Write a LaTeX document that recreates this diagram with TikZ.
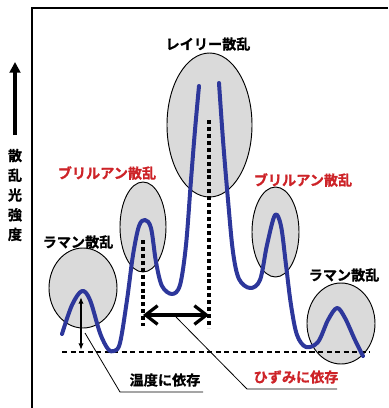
\documentclass[tikz,border=0pt]{standalone}
\usepackage{fontspec}
\newfontfamily\jp{Noto Sans CJK JP}[BoldFont={Noto Sans CJK JP Bold}, BoldFeatures={FakeBold=0.9}]
\usetikzlibrary{arrows.meta}
\definecolor{curveblue}{RGB}{45,55,155}
\definecolor{labred}{RGB}{205,35,40}
\definecolor{ellgray}{RGB}{218,218,218}
\begin{document}
\begin{tikzpicture}[x=0.75pt,y=-0.75pt,
  lab/.style={font=\jp\bfseries\fontsize{10.6}{12}\selectfont, inner sep=0pt},
  redlab/.style={lab, text=labred},
  ell/.style={draw=black, line width=0.7pt, fill=ellgray},
  spec/.style={draw=curveblue, line width=3pt, line cap=round, line join=round},
  vdash/.style={draw=black, line width=2.3pt, dash pattern=on 3pt off 2.2pt},
  hdash/.style={draw=black, line width=1.5pt, dash pattern=on 3.8pt off 2.6pt},
  leader/.style={draw=black, line width=0.6pt}]
\useasboundingbox (0,0) rectangle (389,408);
% frame
\draw[line width=1.5pt] (32,408) -- (32,8) -- (388,8);
% ellipses
\draw[ell] (83,288) ellipse [x radius=34, y radius=40];
\draw[ell] (143,227) ellipse [x radius=23, y radius=45];
\draw[ell] (209.5,125) ellipse [x radius=42.5, y radius=72];
\draw[ell] (275.5,232) ellipse [x radius=23.5, y radius=45];
\draw[ell] (341,323.5) ellipse [x radius=34, y radius=40.5];
% dashed guides
\coordinate (bl0) at (62,352);
\coordinate (bl1) at (370,352);
\draw[hdash] (bl0) -- (bl1);
\coordinate (vb0) at (143,240);
\coordinate (vb1) at (143,326);
\draw[vdash] (vb0) -- (vb1);
\coordinate (vr0) at (209,120);
\coordinate (vr1) at (209,328);
\draw[vdash] (vr0) -- (vr1);
% spectrum
\draw[spec] plot[smooth, tension=0.55] coordinates {(62,334) (72,305) (82,291) (90,300) (100,333) (108,349) (114,351) (120,343) (127,300) (133,255) (139,226) (145,220) (151,228) (156,262) (162,286) (172,294) (180,285) (186,245) (191,180) (195,130) (199,86)};
\draw[spec] plot[smooth, tension=0.55] coordinates {(219,83) (223,140) (228,200) (233,252) (239,279) (250,288) (260,280) (267,245) (275,215) (281,226) (286,265) (291,305) (297,335) (306,347) (318,342) (328,320) (337,308) (345,318) (355,340) (363,356)};
% arrows
\coordinate (va0) at (81,297);
\coordinate (va1) at (81,350);
\draw[line width=1.2pt, {Latex[length=5pt,width=4pt]}-{Latex[length=5pt,width=4pt]}] (va0) -- (va1);
\coordinate (ha0) at (143,315);
\coordinate (ha1) at (209,315);
\draw[line width=2.4pt, {Straight Barb[length=9pt,width=14pt]}-{Straight Barb[length=9pt,width=14pt]}] (ha0) -- (ha1);
\coordinate (ya0) at (15,135);
\coordinate (ya1) at (15,62);
\draw[line width=3pt, -{Triangle[length=8pt,width=8pt]}] (ya0) -- (ya1);
% labels
\node[lab] (ray) at (208,44) {レイリー散乱};
\node[redlab] (bril) at (107,173) {ブリルアン散乱};
\node[redlab] (brir) at (303,180) {ブリルアン散乱};
\node[lab] (raml) at (78,242) {ラマン散乱};
\node[lab] (ramr) at (344,275) {ラマン散乱};
\node[lab] (temp) at (165,380) {温度に依存};
\node[redlab] (strain) at (296,377) {ひずみに依存};
\node[lab, align=center, font=\jp\bfseries\fontsize{10.6}{14.8}\selectfont] (ylab) at (15,195) {散\\乱\\光\\強\\度};
% leaders
\coordinate (t0) at (85,333);
\coordinate (t1) at (120,392);
\coordinate (t2) at (203,392);
\draw[leader] (t0) -- (t1) -- (t2);
\coordinate (s0) at (176,317);
\coordinate (s1) at (247,389);
\coordinate (s2) at (337,389);
\draw[leader] (s0) -- (s1) -- (s2);
\end{tikzpicture}
\end{document}
